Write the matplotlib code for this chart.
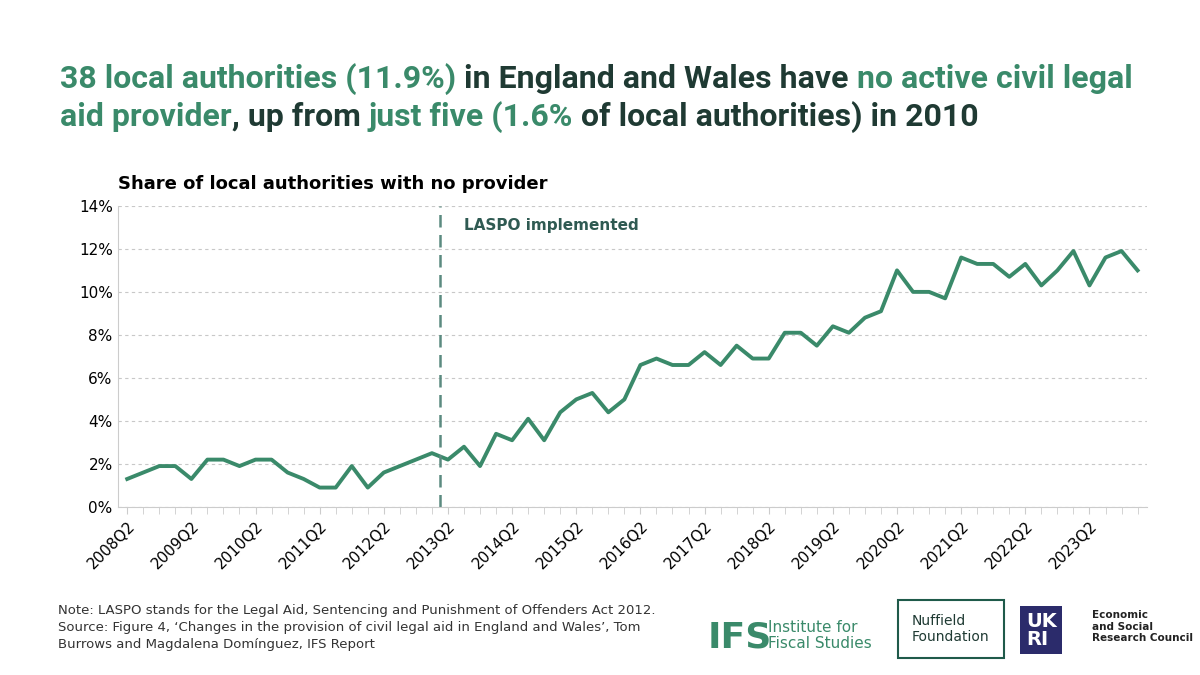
import matplotlib.pyplot as plt
import numpy as np

green = "#3a8a6a"
dark = "#1f3a33"

# share of local authorities with no active provider, 2008Q2 onwards
share = [1.3,1.6,1.9,1.9,1.3,2.2,2.2,1.9,2.2,2.2,
         1.6,1.3,0.9,0.9,1.9,0.9,1.6,1.9,2.2,2.5,
         2.2,2.8,1.9,3.4,3.1,4.1,3.1,4.4,5.0,5.3,
         4.4,5.0,6.6,6.9,6.6,6.6,7.2,6.6,7.5,6.9,
         6.9,8.1,8.1,7.5,8.4,8.1,8.8,9.1,11.0,10.0,
         10.0,9.7,11.6,11.3,11.3,10.7,11.3,10.3,11.0,11.9,
         10.3,11.6,11.9,11.0]
x = np.arange(len(share))
labels = ["%dQ2" %(2008+i) for i in range(16)]

# title pieces: (text, colour)
title = [[("38 local authorities (11.9%)", green), (" in England and Wales have ", dark),
          ("no active civil legal", green)],
         [("aid provider", green), (", up from ", dark), ("just five (1.6%", green),
          (" of local authorities) in 2010", dark)]]

fig = plt.figure(figsize=(12,6.75), dpi=100)
ax = fig.add_axes([0.098, 0.249, 0.858, 0.446])
ax.plot(x, share, color=green, lw=2.8)
ax.axvline(19.5, color="#5b8a80", ls=(0,(5,3)), lw=1.8)
ax.text(21.0, 12.9, "LASPO implemented", color="#2f5a52", fontsize=11, fontweight="bold")
ax.set_xlim(-0.6, 63.6)
ax.set_ylim(0, 14)
ax.set_yticks(range(0,15,2))
ax.set_yticklabels(["%d%%" %v for v in range(0,15,2)], fontsize=11)
ax.set_xticks(x[::4])
ax.set_xticklabels(labels, rotation=45, ha="right", rotation_mode="anchor", fontsize=11)
ax.set_xticks(x, minor=True)
ax.tick_params(axis="x", which="both", length=5, color="#cccccc")
ax.tick_params(axis="y", length=0)
ax.grid(axis="y", ls=(0,(3,3)), color="#c8c8c8", lw=0.8)
for s in ["top","right"]:
    ax.spines[s].set_visible(False)
ax.spines["left"].set_color("#cccccc")
ax.spines["bottom"].set_color("#cccccc")

r = fig.canvas.get_renderer()
for j, line in enumerate(title):
    xpos = 0.05
    for txt, col in line:
        t = fig.text(xpos, 0.883 - j*0.056, txt, fontsize=23, color=col, fontweight="bold",
                     va="center", family="Roboto")
        xpos += t.get_window_extent(r).width / fig.bbox.width

fig.text(0.098, 0.72, "Share of local authorities with no provider", fontsize=13, fontweight="bold")
fig.text(0.048, 0.04, "Note: LASPO stands for the Legal Aid, Sentencing and Punishment of Offenders Act 2012.\n"
         "Source: Figure 4, \u2018Changes in the provision of civil legal aid in England and Wales\u2019, Tom\n"
         "Burrows and Magdalena Dom\u00ednguez, IFS Report", fontsize=9.5, color="#333333", linespacing=1.4)
fig.text(0.59, 0.04, "IFS", fontsize=26, fontweight="bold", color=green)
fig.text(0.64, 0.04, "Institute for\nFiscal Studies", fontsize=11, color=green, linespacing=1.1)
fig.text(0.76, 0.05, "Nuffield\nFoundation", fontsize=10, color=dark, linespacing=1.2,
         bbox=dict(fc="white", ec="#1f5a4a", lw=1.5, pad=10))
fig.text(0.855, 0.045, "UK\nRI", fontsize=14, fontweight="bold", color="white", linespacing=0.9,
         bbox=dict(fc="#2b2b6b", ec="none", pad=4))
fig.text(0.91, 0.05, "Economic\nand Social\nResearch Council", fontsize=7.5, color="#222222", fontweight="bold")
fig.savefig("out.png")
